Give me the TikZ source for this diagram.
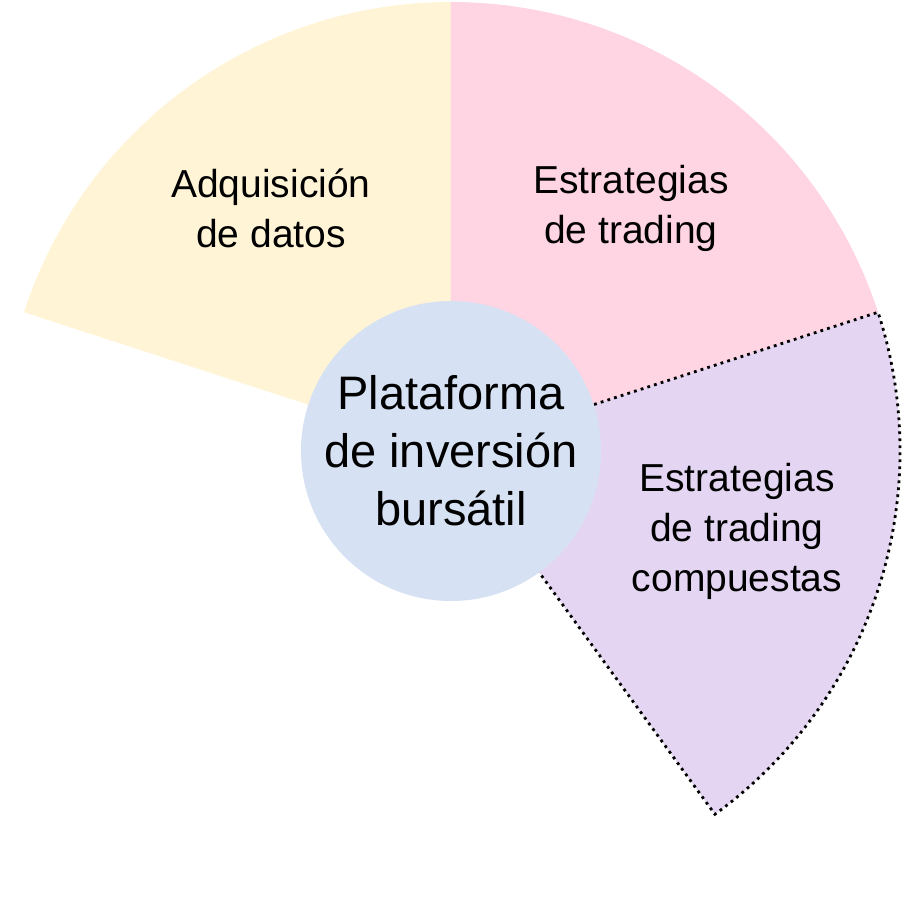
\documentclass[tikz,border=0pt]{standalone}
\usepackage{fontspec}
\setmainfont{Liberation Sans}
\definecolor{secyellow}{RGB}{255,244,214}
\definecolor{secpink}{RGB}{255,212,227}
\definecolor{secpurple}{RGB}{228,214,242}
\definecolor{hubblue}{RGB}{214,225,243}
\begin{document}
\begin{tikzpicture}[x=1pt,y=1pt,
  seclabel/.style={align=center,font=\fontsize{39}{50}\selectfont,text=black},
  hublabel/.style={align=center,font=\fontsize{47}{58}\selectfont,text=black}]
\useasboundingbox (-451,-452) rectangle (452,451);
\def\R{449}
\fill[secyellow] (0,0) -- (90:\R) arc[start angle=90,end angle=162,radius=\R] -- cycle;
\fill[secpink] (0,0) -- (18:\R) arc[start angle=18,end angle=90,radius=\R] -- cycle;
\fill[secpurple] (0,0) -- (-54:\R) arc[start angle=-54,end angle=18,radius=\R] -- cycle;
\draw[line width=2.8pt,dash pattern=on 2.8pt off 4.2pt] (0,0) -- (-54:\R) arc[start angle=-54,end angle=18,radius=\R] -- cycle;
\node[circle,fill=hubblue,minimum size=300pt,inner sep=0pt] (hub) at (0,0) {};
\node[hublabel] (hubtext) at (0,0) {Plataforma\\de inversión\\bursátil};
\node[seclabel] (datos) at (-180,243) {Adquisición\\de datos};
\node[seclabel] (trading) at (180,243) {Estrategias\\de trading};
\node[seclabel] (compuestas) at (286,-80) {Estrategias\\de trading\\compuestas};
\end{tikzpicture}
\end{document}
